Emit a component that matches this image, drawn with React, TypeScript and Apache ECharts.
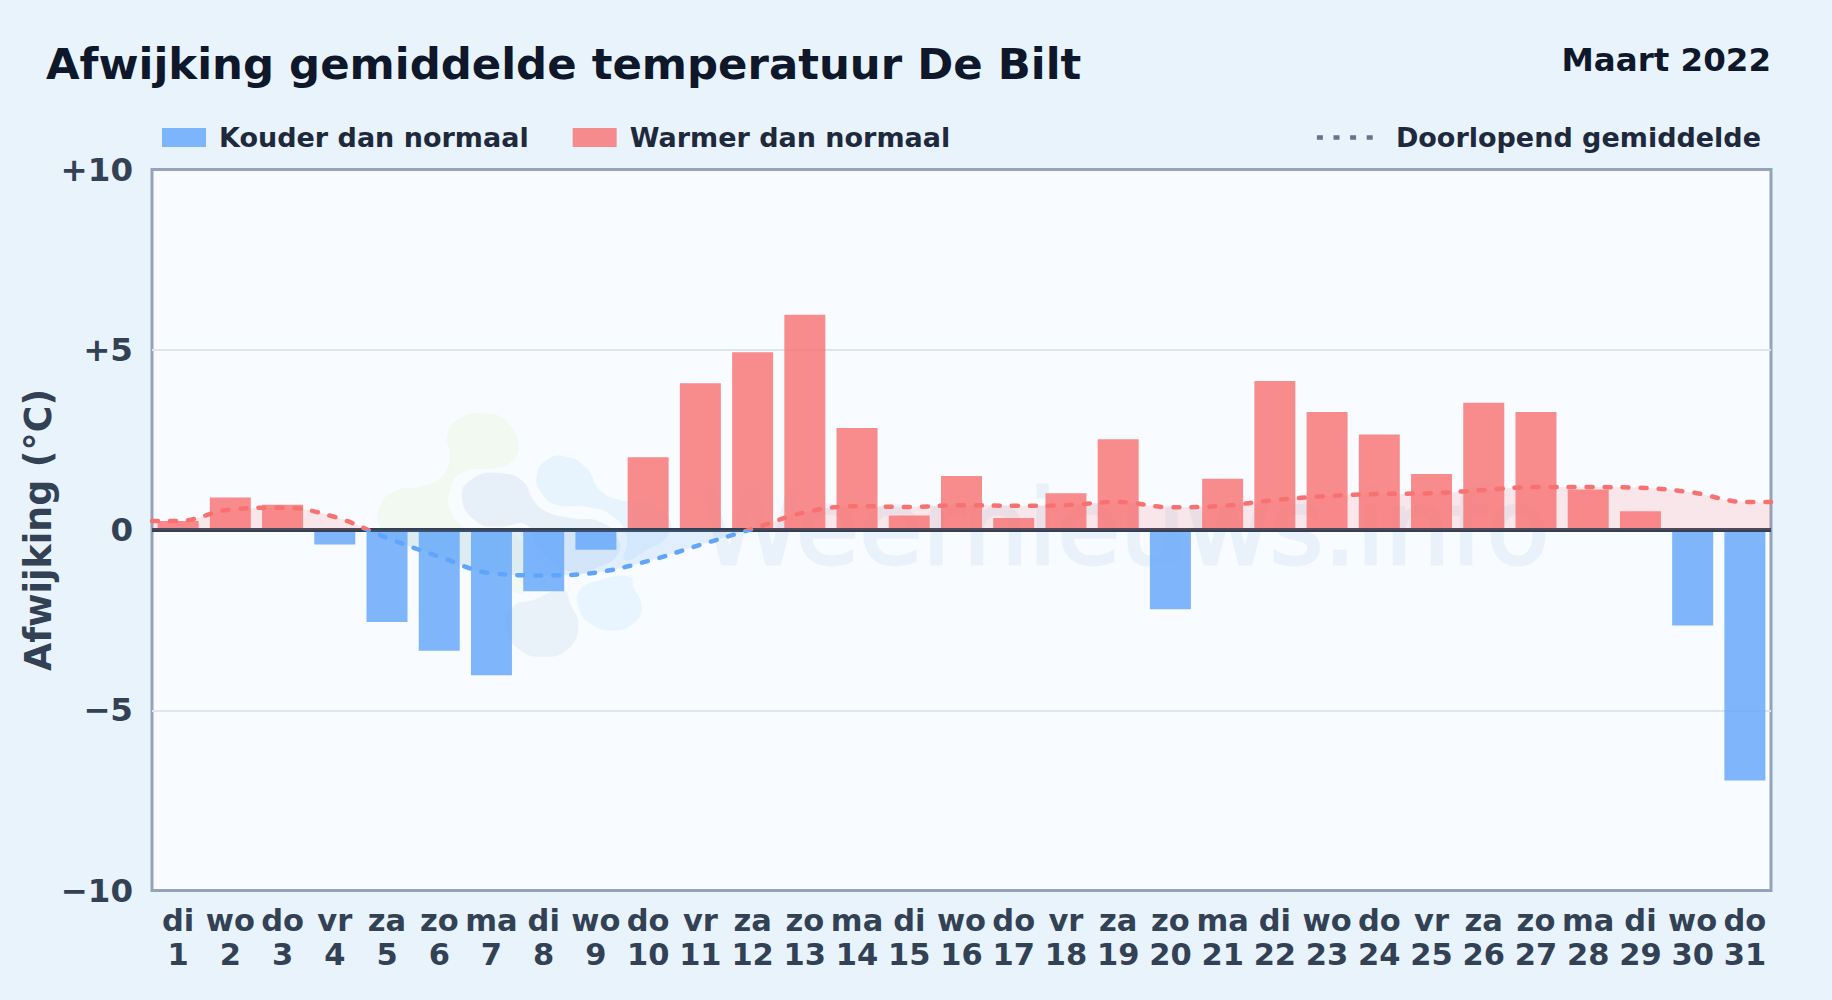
import React, { useEffect, useRef } from "react";
import * as echarts from "echarts";

const weekdays = ["di","wo","do","vr","za","zo","ma","di","wo","do","vr","za","zo","ma","di","wo","do","vr","za","zo","ma","di","wo","do","vr","za","zo","ma","di","wo","do"];
const dayNumbers = ["1","2","3","4","5","6","7","8","9","10","11","12","13","14","15","16","17","18","19","20","21","22","23","24","25","26","27","28","29","30","31"];
const deviations = [0.25,0.9,0.7,-0.4,-2.55,-3.35,-4.03,-1.7,-0.55,2.02,4.07,4.93,5.97,2.83,0.4,1.5,0.33,1.02,2.52,-2.2,1.42,4.13,3.27,2.65,1.55,3.53,3.27,1.12,0.52,-2.65,-6.95];
const runningMean = [0.25,0.57,0.62,0.36,-0.22,-0.74,-1.2,-1.26,-1.18,-0.86,-0.41,0.03,0.49,0.66,0.64,0.69,0.67,0.69,0.78,0.63,0.67,0.83,0.94,1.0,1.02,1.11,1.19,1.19,1.17,1.04,0.78];

const FONT = "DejaVu Sans";
const COLD = "rgba(96,165,250,0.8)";
const WARM = "rgba(248,113,113,0.8)";

// watermark blobs, as points in px of the page
const blob = (pts: number[][], fill: string) => ({
  type: "polygon",
  z: 1,
  silent: true,
  shape: { points: pts.map(([x, y]) => [360 + x / 3, 390 + y / 3]), smooth: 0.5 },
  style: { fill },
});

const watermark = [
  blob([[300,85],[370,70],[440,95],[475,165],[455,215],[400,235],[310,245],[270,300],[275,370],[330,420],[480,450],[490,605],[450,600],[300,520],[150,470],[60,410],[60,350],[100,305],[200,285],[250,255],[270,200],[262,135]], "#f2f9f0"),
  blob([[305,320],[340,265],[420,250],[490,275],[520,330],[560,365],[640,385],[720,395],[770,440],[775,490],[720,530],[630,545],[540,480],[500,405],[420,410],[350,395]], "#e7f0f9"),
  blob([[530,260],[560,210],[620,200],[680,235],[720,300],[780,330],[880,340],[930,390],[920,440],[860,480],[795,510],[800,440],[760,380],[680,350],[590,345],[545,310]], "#e7f4fe"),
  blob([[660,600],[720,570],[810,560],[820,590],[845,650],[820,700],[760,722],[690,700],[655,650]], "#e9f5fe"),
  blob([[460,650],[520,630],[610,600],[630,640],[655,710],[620,780],[545,800],[480,780],[440,720]], "#e9f1f9"),
  {
    type: "text",
    z: 1,
    silent: true,
    x: 700,
    y: 579,
    style: {
      text: "Weernieuws.info",
      fontFamily: FONT,
      fontSize: 103,
      fill: "#e9f2fb",
      stroke: "#e9f2fb",
      lineWidth: 3,
      textAlign: "left",
      textVerticalAlign: "bottom",
    },
  },
];

export default function App() {
  const ref = useRef<HTMLDivElement>(null);
  useEffect(() => {
    document.body.style.margin = "0";
    const chart = echarts.init(ref.current!, null, { renderer: "svg" });
    const linePoints = [
      [0, runningMean[0]],
      ...runningMean.map((v, i) => [i + 0.5, v]),
      [31, runningMean[30]],
    ];
    const legendText = { color: "#1e293b", fontFamily: FONT, fontWeight: "bold", fontSize: 27 };
    chart.setOption({
      animation: false,
      backgroundColor: "#e8f3fc",
      title: [
        {
          text: "Afwijking gemiddelde temperatuur De Bilt",
          left: 46, top: 42, padding: 0,
          textStyle: { fontFamily: FONT, fontWeight: "bold", fontSize: 43.4, color: "#0f172a" },
        },
        {
          text: "Maart 2022",
          right: 61, top: 43, padding: 0,
          textStyle: { fontFamily: FONT, fontWeight: "bold", fontSize: 32.5, color: "#0f172a" },
        },
      ],
      legend: [
        {
          data: ["Kouder dan normaal", "Warmer dan normaal"],
          left: 162, top: 124, padding: 0, icon: "rect",
          itemWidth: 44, itemHeight: 19, itemGap: 44,
          textStyle: { ...legendText, padding: [0, 0, 0, 8] },
          selectedMode: false,
        },
        {
          data: ["Doorlopend gemiddelde"],
          right: 71, top: 124, padding: 0,
          itemWidth: 56, itemHeight: 19,
          lineStyle: { color: "#64748b", type: [6, 10.6], width: 4.5, cap: "butt" },
          itemStyle: { opacity: 0 },
          textStyle: { ...legendText, padding: [0, 0, 0, 18] },
          selectedMode: false,
        },
      ],
      grid: {
        left: 152, right: 61, top: 169.5, bottom: 109.5,
        show: true, backgroundColor: "#f8fbff",
        borderColor: "#94a3b8", borderWidth: 3,
      },
      xAxis: [
        {
          type: "category",
          data: weekdays.map((d, i) => `${d}\n${dayNumbers[i]}`),
          position: "bottom",
          axisLine: { show: false, onZero: false },
          axisTick: { show: false },
          axisLabel: {
            interval: 0, margin: 13, hideOverlap: false,
            fontFamily: FONT, fontWeight: "bold", fontSize: 30.5, lineHeight: 34, color: "#334155",
          },
        },
        { type: "value", min: 0, max: 31, show: false },
      ],
      yAxis: {
        type: "value", min: -10, max: 10, interval: 5,
        name: "Afwijking (°C)",
        nameLocation: "middle", nameGap: 96, nameMoveOverlap: false,
        nameTextStyle: { fontFamily: FONT, fontWeight: "bold", fontSize: 36.4, color: "#334155" },
        axisLine: { show: false },
        axisTick: { show: false },
        axisLabel: {
          margin: 19,
          fontFamily: FONT, fontWeight: "bold", fontSize: 32.5, color: "#334155",
          formatter: (v: number) => (v > 0 ? `+${v}` : v < 0 ? `\u2212${Math.abs(v)}` : "0"),
        },
        splitLine: { show: false },
      },
      visualMap: {
        show: false, type: "piecewise", seriesIndex: 2, dimension: 1,
        pieces: [
          { min: -10, max: 0, color: "#60a5fa" },
          { min: 0, max: 10, color: "#f87171" },
        ],
      },
      graphic: { elements: watermark },
      series: [
        {
          name: "Kouder dan normaal", type: "bar", stack: "t", barWidth: 41,
          data: deviations.map((v) => (v < 0 ? v : null)),
          itemStyle: { color: COLD },
        },
        {
          name: "Warmer dan normaal", type: "bar", stack: "t", barWidth: 41,
          data: deviations.map((v) => (v >= 0 ? v : null)),
          itemStyle: { color: WARM },
          markLine: {
            silent: true, symbol: "none", z: 1,
            label: { show: false },
            lineStyle: { color: "#dfe5ec", width: 1.8, type: "solid" },
            data: [{ yAxis: 5 }, { yAxis: -5 }],
          },
        },
        {
          name: "Doorlopend gemiddelde", type: "line", xAxisIndex: 1,
          data: linePoints, smooth: 0.4, showSymbol: false, symbol: "none", z: 4,
          lineStyle: { width: 4.5, type: [6, 12], cap: "round" },
          areaStyle: { opacity: 0.15 },
          markLine: {
            silent: true, symbol: "none", z: 3,
            label: { show: false },
            lineStyle: { color: "#334155", width: 4, type: "solid" },
            data: [{ yAxis: 0 }],
          },
        },
      ],
    });
    return () => chart.dispose();
  }, []);
  return <div ref={ref} style={{ width: 1832, height: 1000 }} />;
}
